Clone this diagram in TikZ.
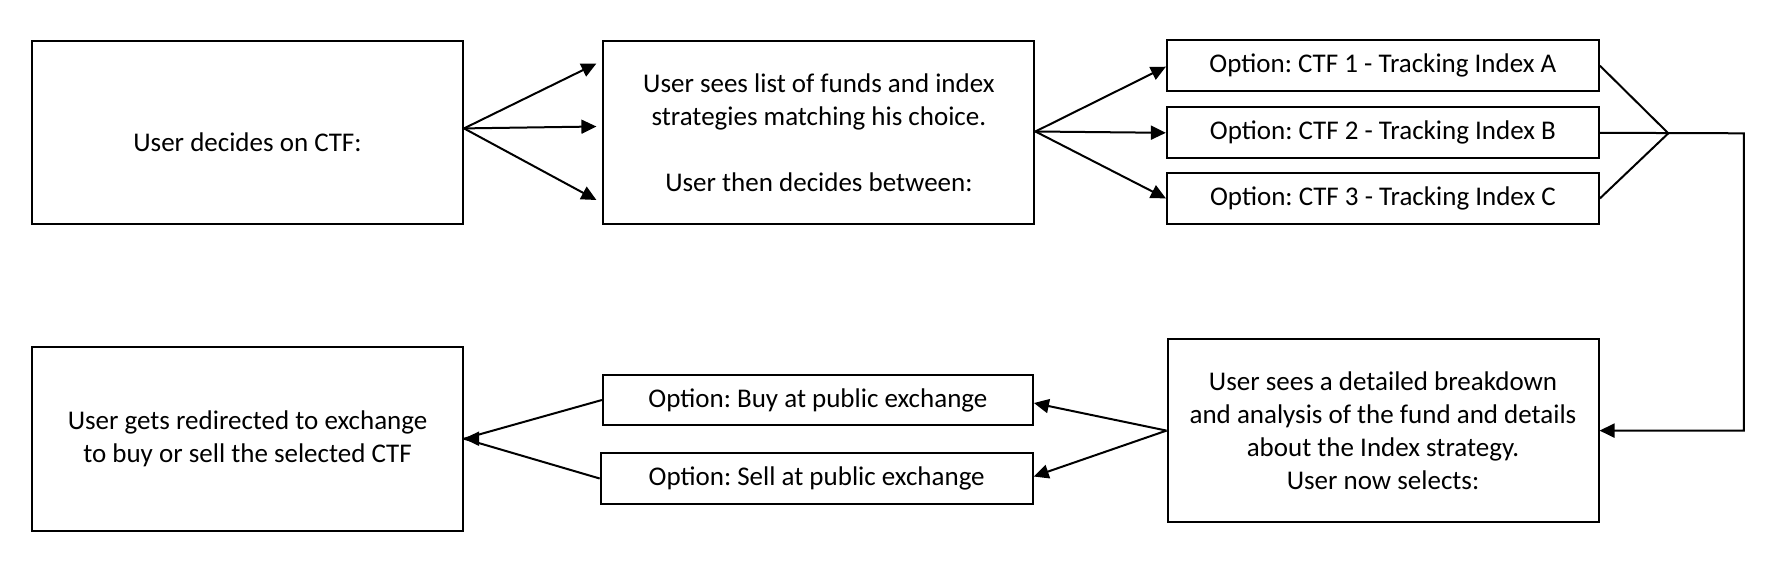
\documentclass[tikz,border=0pt]{standalone}
\usepackage{fontspec}
\setmainfont{Carlito}
\frenchspacing
\usetikzlibrary{arrows.meta,calc}
\begin{document}
\begin{tikzpicture}[x=0.5pt,y=-0.5pt,
  box/.style={draw=black, line width=1pt, inner sep=0pt, align=center,
    font=\fontsize{13.5}{16.5}\selectfont},
  bigbox/.style={box, minimum width=215.5pt, minimum height=91.8pt},
  optbox/.style={box, minimum width=216pt, minimum height=25.4pt},
  conn/.style={line width=1pt},
  arr/.style={conn, -{Triangle[length=7.5pt,width=7pt]}}]
\useasboundingbox (0,0) rectangle (1780,568);
% top row
\node[bigbox, text height=19.3pt, text depth=0pt] (b1) at (247.5,132.4) {User decides on CTF:};
\node[bigbox] (b2) at (818.9,132.5) {User sees list of funds and index\\ strategies matching his choice.\\[16.5pt] User then decides between:};
\node[optbox] (oA) at (1382.9,65.7) {Option: CTF 1 - Tracking Index A};
\node[optbox] (oB) at (1382.9,132.8) {Option: CTF 2 - Tracking Index B};
\node[optbox] (oC) at (1382.9,198.4) {Option: CTF 3 - Tracking Index C};
% bottom row
\node[bigbox] (b4) at (1383,430.6) {User sees a detailed breakdown\\ and analysis of the fund and details\\ about the Index strategy.\\ User now selects:};
\node[optbox, minimum width=215pt] (buy) at (817.9,400) {Option: Buy at public exchange};
\node[optbox] (sell) at (816.7,478.5) {Option: Sell at public exchange};
\node[bigbox] (b5) at (247.5,438.7) {User gets redirected to exchange\\ to buy or sell the selected CTF};
% connectors
\draw[arr] ($(b1.east)+(0,-4)$) -- ($(b2.west)+(-6,-69)$);
\draw[arr] ($(b1.east)+(0,-4)$) -- ($(b2.west)+(-6,-6)$);
\draw[arr] ($(b1.east)+(0,-4)$) -- ($(b2.west)+(-6,67.5)$);
\draw[arr] ($(b2.east)+(0,-1)$) -- ($(oA.west)+(0,1)$);
\draw[arr] ($(b2.east)+(0,-1)$) -- (oB.west);
\draw[arr] ($(b2.east)+(0,-1)$) -- (oC.west);
\coordinate (J) at (1668.3,133.3);
\coordinate (K) at (1743.8,133.3);
\draw[conn] (oA.east) -- (J) -- (oC.east);
\draw[arr] (oB.east) -- (K) |- (b4.east);
\draw[arr] (b4.west) -- ($(buy.east)+(0,3)$);
\draw[arr] (b4.west) -- ($(sell.east)+(0,-2)$);
\draw[conn] (buy.west) -- (b5.east) (sell.west) -- (b5.east);
\draw[arr] ($(b5.east)+(14,0)$) -- (b5.east);
\end{tikzpicture}
\end{document}
